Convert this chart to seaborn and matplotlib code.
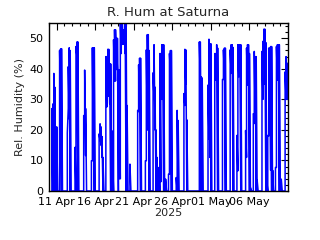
import matplotlib
matplotlib.use("Agg")
import matplotlib.pyplot as plt
import matplotlib.dates as mdates
import matplotlib.ticker as mticker
import pandas as pd
import seaborn as sns

# ---- data (3-hour steps from 2025-04-10 00:00; per step: min and max RH seen) ----
start_time = "2025-04-10 00:00"
step = [3, 4, 5, 6, 7, 8, 9,
        11, 12, 13, 14,
        19, 20, 21, 22, 23,
        27, 28, 29, 30, 31,
        36, 37, 38, 39,
        44, 45, 46, 47, 48,
        52, 53, 54, 55, 56, 57,
        59, 60, 61, 62, 63, 64, 65, 66, 67, 68, 69, 70, 71, 72, 73, 74, 75, 76, 77, 78, 79, 80, 81, 82,
        84, 85,
        92, 93, 94, 95, 96,
        100, 101, 102, 103, 104, 105,
        108, 109, 110, 111, 112, 113, 114, 115, 116, 117, 118, 119, 120,
        121, 122, 124, 125, 126, 127, 128,
        132, 133, 134, 135,
        140, 141, 142, 143, 144,
        156, 157, 158, 159, 160,
        165, 166, 167, 168, 169,
        172, 173, 174, 175, 176,
        180, 181, 182, 183, 184,
        188, 189, 190, 191, 192,
        195, 196, 197, 198, 199, 200,
        204, 205, 206, 207, 208, 209, 210,
        212, 213, 214, 215, 216, 217,
        221, 222, 223, 224, 225, 226,
        227, 228, 229, 230, 231, 232, 233,
        235, 236, 237, 238, 239, 240, 241, 242,
        245, 246, 247, 248]
rh_low = [0, 0, 0, 0, 0, 0, 0,
          0, 30, 0, 0,
          0, 27, 23.6, 0, 0,
          0, 0, 44, 0, 0,
          0, 24.7, 11.6, 0,
          0, 9.9, 12.6, 0, 0,
          0, 16.5, 15, 11, 0, 0,
          0, 27.5, 31, 31, 28.6, 0, 0, 0, 0, 36, 36, 44, 39.6, 0, 4, 4, 45, 48, 48, 48, 45, 0, 0, 0,
          0, 0,
          0, 26, 26, 0, 0,
          0, 9.9, 20, 20, 0, 0,
          0, 30, 20, 0, 0, 0, 0, 0, 3, 30, 30, 0, 0,
          0, 0, 0, 5.5, 38.5, 0, 0,
          0, 0, 0, 0,
          0, 28, 35, 0, 0,
          0, 36, 0, 0, 0,
          0, 17, 11, 0, 0,
          0, 36.3, 36.3, 0, 0,
          0, 36.5, 38, 0, 0,
          0, 38.5, 40, 0, 0,
          0, 6.6, 37.4, 45.7, 0, 0,
          0, 11, 34.7, 40, 0, 0, 0,
          0, 25, 22, 0, 0, 0,
          0, 30, 40, 35, 0, 0,
          0, 18, 36.3, 6.8, 0, 0, 0,
          0, 7.7, 36.3, 36.3, 0, 0, 0, 0,
          0, 30, 30, 30]
rh_high = [27, 28.5, 38.5, 34, 0, 21, 0,
           46, 46.5, 46.6, 0,
           19, 40.7, 46.9, 46, 0,
           14.3, 47.3, 48.8, 48.8, 0,
           24.7, 39.6, 27, 0,
           9.9, 46.9, 46.9, 46.9, 0,
           18.7, 22, 21, 17.8, 11, 0,
           44, 44, 46.4, 46.4, 41.6, 41.6, 19.8, 10, 49.5, 52.8, 52.8, 50, 50, 39.6, 39.6, 56, 56, 56, 52.8, 52.8, 56, 56, 28, 0,
           8.8, 0,
           26.4, 41.3, 43.5, 43.5, 0,
           9.9, 46.2, 51.2, 51.2, 46, 0,
           38.7, 47.9, 34, 20, 11, 0, 7.7, 45, 45, 47.9, 47.9, 47.9, 0,
           3.9, 0, 5.5, 45, 46, 46, 0,
           4.4, 26.4, 23.1, 0,
           31.9, 46.4, 46.2, 23.3, 0,
           48.8, 48.8, 37.4, 37, 0,
           34.7, 49.7, 48.2, 48.2, 0,
           45, 45, 47.9, 46.8, 0,
           36.5, 46.2, 46.8, 46.8, 0,
           46.2, 47.9, 47.9, 47, 0,
           18.2, 47.9, 47.9, 47.9, 47.9, 0,
           19.8, 46.8, 47.9, 47.9, 45, 1.1, 0,
           25.3, 45.7, 44, 44, 3.5, 0,
           45.7, 49, 53, 53, 48.6, 3.3,
           18.2, 46.8, 46.8, 47.3, 47.3, 6.8, 0,
           7.7, 47.3, 47.9, 47.9, 47.9, 0, 3.9, 0,
           39, 44, 41.8, 41.8]

tick_dates = ["2025-04-11", "2025-04-16", "2025-04-21", "2025-04-26", "2025-05-01", "2025-05-06"]
x_start, x_end = "2025-04-10 00:00", "2025-05-11 00:00"

# ---- build long table: each step contributes its min then its max ----
t0 = pd.Timestamp(start_time)
times, vals = [], []
for k, lo, hi in zip(step, rh_low, rh_high):
    t = t0 + pd.Timedelta(hours=3 * k)
    times += [t, t]
    vals += [lo, hi]
df = pd.DataFrame({"time": times, "rh": vals})

sns.set_style("white")
plt.rcParams["font.family"] = ["DejaVu Sans"]

fig = plt.figure(figsize=(3.2, 2.4), dpi=100)
ax = fig.add_axes([49 / 320, 1 - 191 / 240, 239 / 320, 168 / 240])

sns.lineplot(data=df, x="time", y="rh", estimator=None, sort=False,
             color="#0000ff", linewidth=1.1, ax=ax)

ax.set_xlim(pd.Timestamp(x_start), pd.Timestamp(x_end))
ax.set_ylim(0, 55)

ax.xaxis.set_major_locator(mticker.FixedLocator(mdates.date2num(pd.to_datetime(tick_dates))))
ax.xaxis.set_major_formatter(mdates.DateFormatter("%d %b"))
ax.xaxis.set_minor_locator(mdates.DayLocator())
ax.yaxis.set_major_locator(mticker.MultipleLocator(10))
ax.yaxis.set_minor_locator(mticker.MultipleLocator(2))

ax.tick_params(which="both", direction="in", top=True, right=True, colors="black",
               labelsize=8, width=0.8)
ax.tick_params(which="major", length=5, pad=4)
ax.tick_params(which="minor", length=2.5)
for s in ax.spines.values():
    s.set_color("black")
    s.set_linewidth(1.0)

ax.set_title("R. Hum at Saturna", fontsize=9.5, pad=5)
ax.set_xlabel("2025", fontsize=8, labelpad=1)
ax.set_ylabel("Rel. Humidity (%)", fontsize=8, labelpad=3)

fig.savefig("out.png", dpi=100, facecolor="white")
